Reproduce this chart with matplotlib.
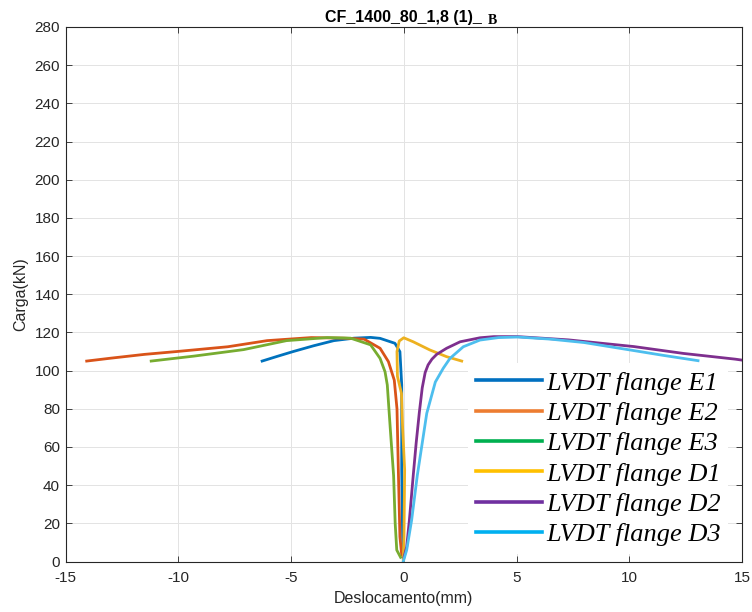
import matplotlib
matplotlib.use("Agg")
import matplotlib.pyplot as plt
from matplotlib.lines import Line2D

plt.rcParams["axes.unicode_minus"] = False

# ---- data (displacement mm, load kN) ----
e1_x = [-0.02, -0.05, -0.09, -0.09, -0.17, -0.39, -1.05, -1.47, -2.2, -3.1, -4.0, -4.9, -5.6, -6.28]
e1_y = [1.4, 13, 48, 92.5, 109.9, 114.3, 116.9, 117.4, 117.0, 115.7, 113.0, 110.0, 107.5, 105.0]

e2_x = [-0.09, -0.17, -0.24, -0.30, -0.42, -0.68, -1.05, -1.76, -2.65, -4.1, -6.06, -7.8, -10.06, -11.5, -13.0, -14.06]
e2_y = [3.4, 13, 48, 80, 95, 104.7, 111.7, 116.5, 117.0, 117.3, 115.7, 112.5, 110.0, 108.5, 106.5, 105.0]

e3_x = [-0.14, -0.31, -0.38, -0.45, -0.60, -0.73, -0.83, -1.05, -1.47, -2.36, -3.4, -5.2, -7.1, -9.3, -11.2]
e3_y = [2.2, 6, 20, 45, 70, 92.5, 99.4, 106.4, 113.5, 117.0, 117.3, 115.7, 111.0, 107.6, 105.0]

d1_x = [-0.02, 0.01, 0.04, -0.05, -0.10, -0.28, -0.30, -0.20, 0.0, 0.42, 1.16, 1.9, 2.57]
d1_y = [0.5, 13, 48, 70, 88, 97, 110, 115.5, 117.2, 115.1, 110.8, 107.3, 105.0]

d2_x = [0.01, 0.13, 0.25, 0.42, 0.55, 0.69, 0.82, 0.95, 1.08, 1.25, 1.46, 1.9, 2.5, 3.38, 4.0, 5.05, 7.3, 10.2, 12.4, 14.7, 15.0]
d2_y = [2.2, 7.7, 21.7, 45, 62, 78, 91, 99, 103, 106, 108.5, 111.7, 115.1, 117.2, 117.8, 117.8, 116.1, 112.6, 109.0, 106.0, 105.5]

d3_x = [-0.02, 0.13, 0.35, 0.6, 1.02, 1.4, 1.75, 2.05, 2.64, 3.38, 4.2, 5.05, 6.5, 8.0, 10.2, 11.5, 13.05]
d3_y = [0, 6, 21.7, 45, 77.6, 94, 101.2, 106.4, 112.5, 116.0, 117.3, 117.6, 116.5, 114.7, 110.5, 108.0, 105.2]

labels = ["LVDT flange E1", "LVDT flange E2", "LVDT flange E3",
          "LVDT flange D1", "LVDT flange D2", "LVDT flange D3"]
series = [(e1_x, e1_y), (e2_x, e2_y), (e3_x, e3_y), (d1_x, d1_y), (d2_x, d2_y), (d3_x, d3_y)]
line_colors = ["#0072BD", "#D95319", "#77AC30", "#EDB120", "#7E2F8E", "#4DBEEE"]
legend_colors = ["#0070C0", "#ED7D31", "#00B050", "#FFC000", "#7030A0", "#00B0F0"]

x_ticks = [-15, -10, -5, 0, 5, 10, 15]
y_ticks = list(range(0, 281, 20))

fig = plt.figure(figsize=(7.52, 6.12), dpi=100)
ax = fig.add_axes([65.5 / 752, 1 - 561.5 / 612, 676.5 / 752, 534.5 / 612])

for (xs, ys), c in zip(series, line_colors):
    ax.plot(xs, ys, color=c, lw=2.0, solid_joinstyle="round")

ax.set_xlim(-15, 15)
ax.set_ylim(0, 280)
ax.set_xticks(x_ticks)
ax.set_yticks(y_ticks)
ax.grid(True, color="#e3e3e3", lw=0.7)
ax.set_axisbelow(True)

dark = "#262626"
for s in ax.spines.values():
    s.set_color(dark)
    s.set_linewidth(0.8)
ax.tick_params(direction="in", length=4, width=0.6, colors=dark, labelsize=11,
               top=True, right=True, labelfontfamily="Liberation Sans")
ax.tick_params(axis="x", pad=7)
ax.tick_params(axis="y", pad=4)

ax.set_xlabel("Deslocamento(mm)", fontsize=11.5, family="Liberation Sans", color=dark)
ax.set_ylabel("Carga(kN)", fontsize=11.5, family="Liberation Sans", color=dark)
ax.xaxis.set_label_coords(0.5, -0.055)
ax.yaxis.set_label_coords(-0.055, 0.5)

ax.text(0.5, 1.0099, "CF_1400_80_1,8 (1)_", transform=ax.transAxes, ha="center",
        va="baseline", fontsize=11.5, fontweight="bold", family="Liberation Sans", color="black")
ax.text(0.6245, 1.0056, "B", transform=ax.transAxes, ha="left", va="baseline",
        fontsize=10, fontweight="bold", family="Liberation Serif", color="black")

handles = [Line2D([], [], color=c, lw=2.6) for c in legend_colors]
leg = ax.legend(handles, labels, loc="upper left", bbox_to_anchor=(0.595, 0.371),
                borderaxespad=0, frameon=True, fancybox=False, framealpha=1,
                edgecolor="none", facecolor="white", handlelength=2.5,
                handletextpad=0.15, labelspacing=0.26, borderpad=0.3,
                prop={"family": "Liberation Serif", "style": "italic", "size": 19})

fig.savefig("out.png", dpi=100)
